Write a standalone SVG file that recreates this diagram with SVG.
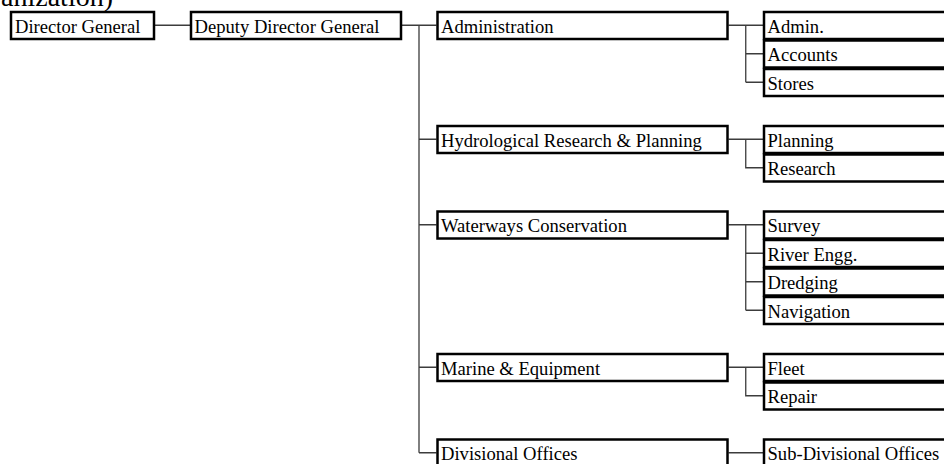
<svg xmlns="http://www.w3.org/2000/svg" width="944" height="464" viewBox="0 0 944 464">
  <style>
    .box { fill: #ffffff; stroke: #000000; stroke-width: 2.5; }
    .lbl { font-family: "Liberation Serif", "Times New Roman", serif; font-size: 18.6px; fill: #000000; }
    .title { font-family: "Liberation Serif", "Times New Roman", serif; font-size: 28px; fill: #000000; }
    .wire { fill: none; stroke: #3c3c3c; stroke-width: 1.3; }
  </style>
  <rect width="944" height="464" fill="#ffffff"/>

  <!-- heading, mostly above the top edge -->
  <text class="title" x="113" y="5.5" text-anchor="end">anization)</text>

  <!-- connectors -->
  <g id="connectors">
    <line class="wire" x1="155" y1="25.25" x2="190" y2="25.25"/>
    <!-- trunk from the deputy to the divisions -->
    <path class="wire" d="M402 25.25 H436.5 M419 25.25 V452.75 M419 139.25 H436.5 M419 224.75 H436.5 M419 367.25 H436.5 M419 452.75 H436.5"/>
    <!-- Administration -->
    <path class="wire" d="M728.5 25.25 H763 M745.75 25.25 V82.25 M745.75 53.75 H763 M745.75 82.25 H763"/>
    <!-- Hydrological Research & Planning -->
    <path class="wire" d="M728.5 139.25 H763 M745.75 139.25 V167.75 H763"/>
    <!-- Waterways Conservation -->
    <path class="wire" d="M728.5 224.75 H763 M745.75 224.75 V310.25 M745.75 253.25 H763 M745.75 281.75 H763 M745.75 310.25 H763"/>
    <!-- Marine & Equipment -->
    <path class="wire" d="M728.5 367.25 H763 M745.75 367.25 V395.75 H763"/>
    <!-- Divisional Offices -->
    <line class="wire" x1="728.5" y1="452.75" x2="763" y2="452.75"/>
  </g>

  <g id="director-general">
    <rect class="box" x="11" y="12" width="143" height="27"/>
    <text class="lbl" x="15" y="32.5">Director General</text>
  </g>
  <g id="deputy-director-general">
    <rect class="box" x="191" y="12" width="210" height="27"/>
    <text class="lbl" x="194.5" y="32.5">Deputy Director General</text>
  </g>

  <!-- divisions -->
  <g id="administration">
    <rect class="box" x="437.5" y="12" width="290" height="27"/>
    <text class="lbl" x="441" y="32.5">Administration</text>
  </g>
  <g id="hydrological-research-planning">
    <rect class="box" x="437.5" y="126" width="290" height="27"/>
    <text class="lbl" x="441" y="146.5">Hydrological Research &amp; Planning</text>
  </g>
  <g id="waterways-conservation">
    <rect class="box" x="437.5" y="211.5" width="290" height="27"/>
    <text class="lbl" x="441" y="232">Waterways Conservation</text>
  </g>
  <g id="marine-equipment">
    <rect class="box" x="437.5" y="354" width="290" height="27"/>
    <text class="lbl" x="441" y="374.5">Marine &amp; Equipment</text>
  </g>
  <g id="divisional-offices">
    <rect class="box" x="437.5" y="439.5" width="290" height="27"/>
    <text class="lbl" x="441" y="460">Divisional Offices</text>
  </g>

  <!-- sections -->
  <g id="admin">
    <rect class="box" x="764" y="12" width="200" height="27"/>
    <text class="lbl" x="767.5" y="32.5">Admin.</text>
  </g>
  <g id="accounts">
    <rect class="box" x="764" y="40.5" width="200" height="27"/>
    <text class="lbl" x="767.5" y="61">Accounts</text>
  </g>
  <g id="stores">
    <rect class="box" x="764" y="69" width="200" height="27"/>
    <text class="lbl" x="767.5" y="89.5">Stores</text>
  </g>
  <g id="planning">
    <rect class="box" x="764" y="126" width="200" height="27"/>
    <text class="lbl" x="767.5" y="146.5">Planning</text>
  </g>
  <g id="research">
    <rect class="box" x="764" y="154.5" width="200" height="27"/>
    <text class="lbl" x="767.5" y="175">Research</text>
  </g>
  <g id="survey">
    <rect class="box" x="764" y="211.5" width="200" height="27"/>
    <text class="lbl" x="767.5" y="232">Survey</text>
  </g>
  <g id="river-engg">
    <rect class="box" x="764" y="240" width="200" height="27"/>
    <text class="lbl" x="767.5" y="260.5">River Engg.</text>
  </g>
  <g id="dredging">
    <rect class="box" x="764" y="268.5" width="200" height="27"/>
    <text class="lbl" x="767.5" y="289">Dredging</text>
  </g>
  <g id="navigation">
    <rect class="box" x="764" y="297" width="200" height="27"/>
    <text class="lbl" x="767.5" y="317.5">Navigation</text>
  </g>
  <g id="fleet">
    <rect class="box" x="764" y="354" width="200" height="27"/>
    <text class="lbl" x="767.5" y="374.5">Fleet</text>
  </g>
  <g id="repair">
    <rect class="box" x="764" y="382.5" width="200" height="27"/>
    <text class="lbl" x="767.5" y="403">Repair</text>
  </g>
  <g id="sub-divisional-offices">
    <rect class="box" x="764" y="439.5" width="200" height="27"/>
    <text class="lbl" x="767.5" y="460">Sub-Divisional Offices</text>
  </g>
</svg>
